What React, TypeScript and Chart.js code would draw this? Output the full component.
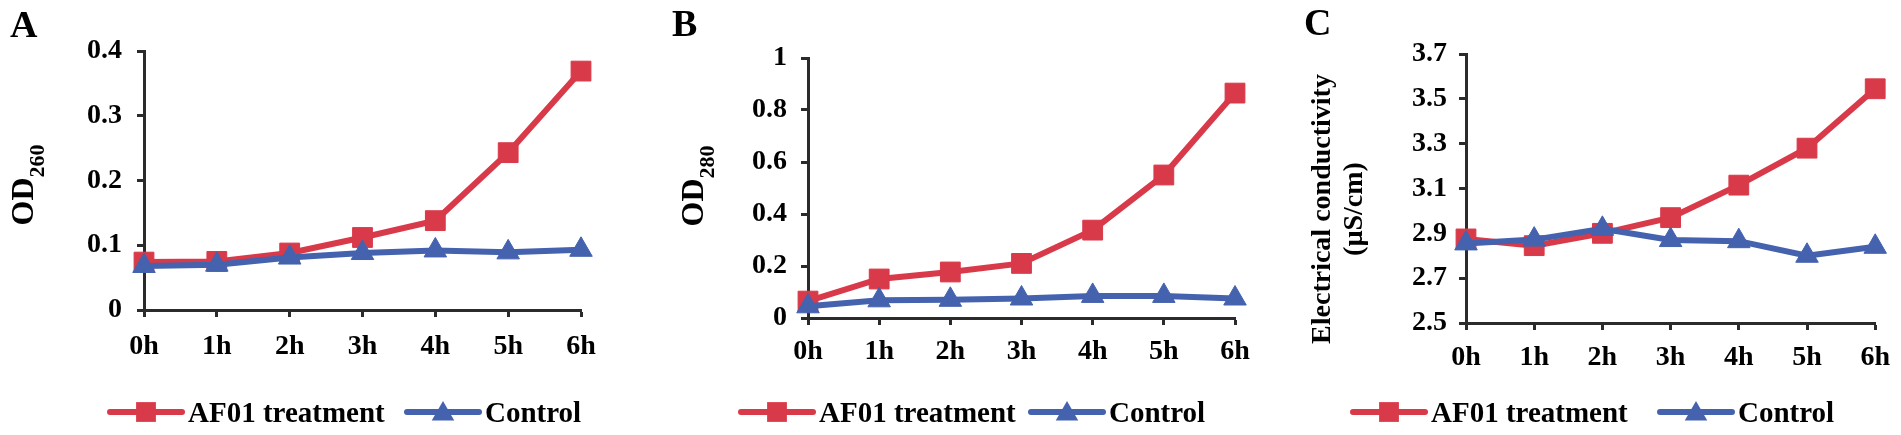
import { useEffect, useRef } from 'react';
import { Chart, registerables } from 'chart.js';

Chart.register(...registerables);

const FONT = '"Liberation Serif", "Times New Roman", serif';
const RED = '#D93A4A';
const BLUE = '#4562AE';
const AXIS = '#2b2b2b';

// time points on the x axis
const hours = ['0h', '1h', '2h', '3h', '4h', '5h', '6h'];
const seriesLabels = ['AF01 treatment', 'Control'];

// A: OD260
const od260Treatment = [0.074, 0.075, 0.088, 0.112, 0.138, 0.243, 0.369];
const od260Control = [0.068, 0.07, 0.081, 0.088, 0.092, 0.089, 0.093];

// B: OD280
const od280Treatment = [0.065, 0.15, 0.177, 0.21, 0.338, 0.55, 0.865];
const od280Control = [0.045, 0.068, 0.07, 0.075, 0.085, 0.085, 0.075];

// C: electrical conductivity (µS/cm)
const ecTreatment = [2.875, 2.845, 2.9, 2.97, 3.115, 3.28, 3.545];
const ecControl = [2.855, 2.872, 2.92, 2.87, 2.865, 2.8, 2.84];

interface TitlePart {
  text: string;
  size: number;
  shift: number;
}

interface PanelConfig {
  letter: string;
  left: number;
  width: number;
  treatment: number[];
  control: number[];
  min: number;
  max: number;
  step: number;
  // layout
  top: number;
  yAxisWidth: number;
  xAxisHeight: number;
  padRight: number;
  yTickPad: number;
  xTickPad: number;
  letterX: number;
  letterY: number;
  titleLines: TitlePart[][];
  titleX: number[];
  titleY: number;
  legendX: number[];
}

const HEIGHT = 435;
const LEGEND_Y = 412;
const LEG_LINE = 72;
const LINE_W = 6;

const panels: PanelConfig[] = [
  {
    letter: 'A', left: 0, width: 633,
    treatment: od260Treatment, control: od260Control,
    min: 0, max: 0.4, step: 0.1,
    top: 51, yAxisWidth: 144, xAxisHeight: HEIGHT - 310, padRight: 52,
    yTickPad: 15, xTickPad: 13,
    letterX: 10, letterY: 37,
    titleLines: [[{ text: 'OD', size: 32, shift: 0 }, { text: '260', size: 22, shift: 11 }]],
    titleX: [33], titleY: 185,
    legendX: [110, 407],
  },
  {
    letter: 'B', left: 633, width: 634,
    treatment: od280Treatment, control: od280Control,
    min: 0, max: 1, step: 0.2,
    top: 58, yAxisWidth: 175, xAxisHeight: HEIGHT - 318, padRight: 32,
    yTickPad: 14, xTickPad: 10,
    letterX: 39, letterY: 36,
    titleLines: [[{ text: 'OD', size: 32, shift: 0 }, { text: '280', size: 22, shift: 11 }]],
    titleX: [70], titleY: 186,
    legendX: [108, 398],
  },
  {
    letter: 'C', left: 1267, width: 634,
    treatment: ecTreatment, control: ecControl,
    min: 2.5, max: 3.7, step: 0.2,
    top: 54, yAxisWidth: 199, xAxisHeight: HEIGHT - 323, padRight: 22,
    yTickPad: 12, xTickPad: 11,
    letterX: 37, letterY: 35,
    titleLines: [
      [{ text: 'Electrical conductivity', size: 28, shift: 0 }],
      [{ text: '(µS/cm)', size: 28, shift: 0 }],
    ],
    titleX: [63, 95], titleY: 209,
    legendX: [86, 393],
  },
];

function drawMarker(ctx: CanvasRenderingContext2D, style: string, x: number, y: number, r: number, color: string) {
  ctx.fillStyle = color;
  ctx.beginPath();
  if (style === 'rect') {
    const h = r * Math.SQRT1_2;
    ctx.rect(x - h, y - h, 2 * h, 2 * h);
  } else {
    const w = r * Math.sin(Math.PI / 3);
    ctx.moveTo(x, y - r);
    ctx.lineTo(x + w, y + r / 2);
    ctx.lineTo(x - w, y + r / 2);
    ctx.closePath();
  }
  ctx.fill();
}

function makeDecor(p: PanelConfig) {
  return {
    id: 'decor' + p.letter,
    afterDraw(chart: Chart) {
      const ctx = chart.ctx;
      ctx.save();
      ctx.fillStyle = '#000';
      ctx.textBaseline = 'alphabetic';
      ctx.textAlign = 'left';

      // panel letter
      ctx.font = `bold 38px ${FONT}`;
      ctx.fillText(p.letter, p.letterX, p.letterY);

      // rotated y-axis title (with subscript parts)
      p.titleLines.forEach((parts, li) => {
        let total = 0;
        parts.forEach((pt) => {
          ctx.font = `bold ${pt.size}px ${FONT}`;
          total += ctx.measureText(pt.text).width;
        });
        ctx.save();
        ctx.translate(p.titleX[li], p.titleY);
        ctx.rotate(-Math.PI / 2);
        let x = -total / 2;
        parts.forEach((pt) => {
          ctx.font = `bold ${pt.size}px ${FONT}`;
          ctx.fillText(pt.text, x, pt.shift);
          x += ctx.measureText(pt.text).width;
        });
        ctx.restore();
      });

      // legend: line with marker, then label
      chart.data.datasets.forEach((ds: any, i: number) => {
        const x0 = p.legendX[i];
        ctx.strokeStyle = ds.borderColor;
        ctx.lineWidth = LINE_W;
        ctx.lineCap = 'round';
        ctx.beginPath();
        ctx.moveTo(x0, LEGEND_Y);
        ctx.lineTo(x0 + LEG_LINE, LEGEND_Y);
        ctx.stroke();
        drawMarker(ctx, ds.pointStyle, x0 + LEG_LINE / 2, LEGEND_Y + (ds.pointStyle === 'triangle' ? 2 : 0), ds.pointRadius, ds.backgroundColor);
        ctx.fillStyle = '#000';
        ctx.font = `bold 29px ${FONT}`;
        ctx.fillText(ds.label, x0 + LEG_LINE + 6, LEGEND_Y + 10);
      });
      ctx.restore();
    },
  };
}

function Panel({ p }: { p: PanelConfig }) {
  const canvasRef = useRef<HTMLCanvasElement>(null);

  useEffect(() => {
    if (!canvasRef.current) return;
    const tickFont = { family: FONT, size: 28, weight: 'bold' as const };

    const chart = new Chart(canvasRef.current, {
      type: 'line',
      data: {
        labels: hours,
        datasets: [
          {
            label: seriesLabels[0],
            data: p.treatment,
            borderColor: RED,
            backgroundColor: RED,
            borderWidth: LINE_W,
            pointStyle: 'rect',
            pointRadius: 14,
            pointBorderWidth: 1,
            pointBorderColor: RED,
            tension: 0,
            clip: false,
            order: 1,
          },
          {
            label: seriesLabels[1],
            data: p.control,
            borderColor: BLUE,
            backgroundColor: BLUE,
            borderWidth: LINE_W,
            pointStyle: 'triangle',
            pointRadius: 13,
            pointBorderWidth: 1,
            pointBorderColor: BLUE,
            tension: 0,
            clip: false,
            order: 0,
          },
        ],
      },
      options: {
        responsive: false,
        animation: false,
        events: [],
        layout: { padding: { left: 0, right: p.padRight, top: p.top, bottom: 0 } },
        plugins: {
          legend: { display: false },
          tooltip: { enabled: false },
        },
        scales: {
          x: {
            type: 'category',
            offset: false,
            grid: { drawOnChartArea: false, drawTicks: true, tickLength: 7, tickWidth: 3, tickColor: AXIS },
            border: { display: true, color: AXIS, width: 3 },
            ticks: { font: tickFont, color: '#000', padding: p.xTickPad, maxRotation: 0, autoSkip: false },
            afterFit: (s: any) => {
              s.height = p.xAxisHeight;
            },
          },
          y: {
            min: p.min,
            max: p.max,
            grid: { drawOnChartArea: false, drawTicks: true, tickLength: 7, tickWidth: 3, tickColor: AXIS },
            border: { display: true, color: AXIS, width: 3 },
            ticks: {
              stepSize: p.step,
              font: tickFont,
              color: '#000',
              padding: p.yTickPad,
              callback: (v: any) => String(Number(Number(v).toFixed(2))),
            },
            afterFit: (s: any) => {
              s.width = p.yAxisWidth;
            },
          },
        },
      },
      plugins: [makeDecor(p)],
    });

    return () => {
      chart.destroy();
    };
  }, [p]);

  return (
    <canvas
      ref={canvasRef}
      width={p.width}
      height={HEIGHT}
      style={{ position: 'absolute', left: p.left, top: 0, width: p.width, height: HEIGHT }}
    />
  );
}

export default function App() {
  return (
    <div style={{ position: 'fixed', left: 0, top: 0, width: 1901, height: HEIGHT, background: '#fff' }}>
      {panels.map((p) => (
        <Panel key={p.letter} p={p} />
      ))}
    </div>
  );
}
